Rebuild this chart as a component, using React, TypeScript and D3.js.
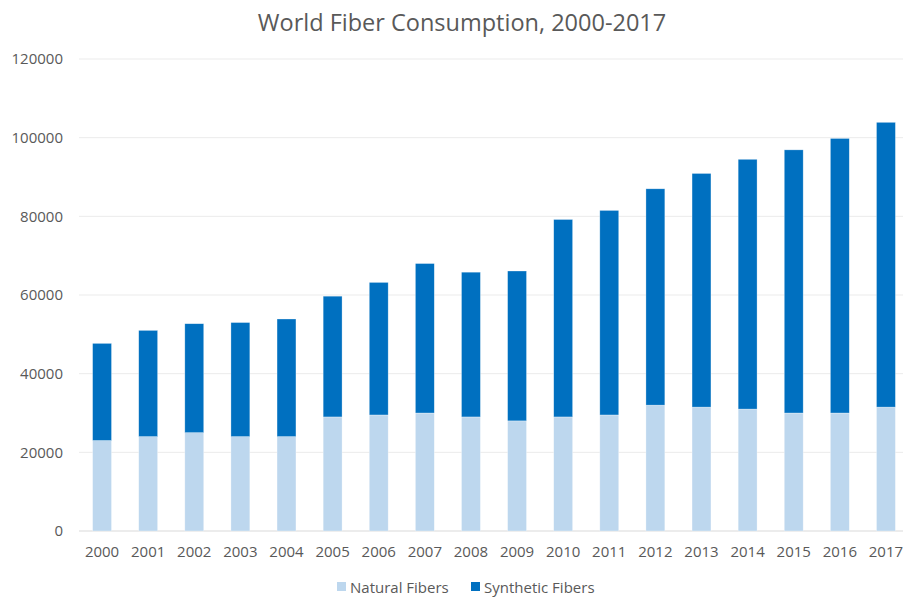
import React from 'react'
import { scaleBand, scaleLinear, stack } from 'd3'

const years = ['2000', '2001', '2002', '2003', '2004', '2005', '2006', '2007', '2008', '2009', '2010', '2011', '2012', '2013', '2014', '2015', '2016', '2017']
const natural = [23000, 24000, 25000, 24000, 24000, 29000, 29500, 30000, 29000, 28000, 29000, 29500, 32000, 31500, 31000, 30000, 30000, 31500]
const synthetic = [24700, 27000, 27700, 29000, 29900, 30700, 33700, 38000, 36800, 38100, 50200, 52000, 55000, 59400, 63500, 66900, 69800, 72400]
const yTicks = [0, 20000, 40000, 60000, 80000, 100000, 120000]
const seriesNames = ['Natural Fibers', 'Synthetic Fibers']
const colors = ['#BDD7EE', '#0070C0']

const W = 903
const H = 597
const margin = { top: 59, right: -6, bottom: 66, left: 79 }
const font = "'Open Sans', 'Liberation Sans', sans-serif"

export default function App() {
  const rows = years.map((y, i) => ({ year: y, natural: natural[i], synthetic: synthetic[i] }))
  const layers = stack<any>().keys(['natural', 'synthetic'])(rows)

  const x = scaleBand().domain(years).range([margin.left, W - margin.right]).paddingInner(0.59).paddingOuter(0.295)
  const y = scaleLinear().domain([0, 120000]).range([H - margin.bottom, margin.top])

  return (
    <svg width={W} height={H} style={{ position: 'absolute', left: 0, top: 0, background: '#fff' }} fontFamily={font}>
      <text x={462} y={31} textAnchor="middle" fontSize={23.5} fill="#595959">World Fiber Consumption, 2000-2017</text>
      {yTicks.map(t => (
        <g key={t}>
          <line x1={margin.left} x2={W - margin.right} y1={y(t)} y2={y(t)} stroke={t === 0 ? '#d9d9d9' : '#ebebeb'} strokeWidth={1} />
          <text x={63} y={y(t)} dy="0.35em" textAnchor="end" fontSize={15} fill="#595959">{t}</text>
        </g>
      ))}
      {layers.map((layer, li) => (
        <g key={li} fill={colors[li]}>
          {layer.map((d, i) => (
            <rect key={i} x={x(years[i])} y={y(d[1])} width={x.bandwidth()} height={y(d[0]) - y(d[1])} stroke="#ffffff" strokeOpacity={0.5} strokeWidth={0.6} />
          ))}
        </g>
      ))}
      {years.map(yr => (
        <text key={yr} x={(x(yr) as number) + x.bandwidth() / 2} y={557} textAnchor="middle" fontSize={15} fill="#595959">{yr}</text>
      ))}
      <g fontSize={15} fill="#595959">
        <rect x={337} y={582} width={9} height={9} fill={colors[0]} />
        <text x={350} y={593}>{seriesNames[0]}</text>
        <rect x={471} y={582} width={9} height={9} fill={colors[1]} />
        <text x={484} y={593}>{seriesNames[1]}</text>
      </g>
    </svg>
  )
}
